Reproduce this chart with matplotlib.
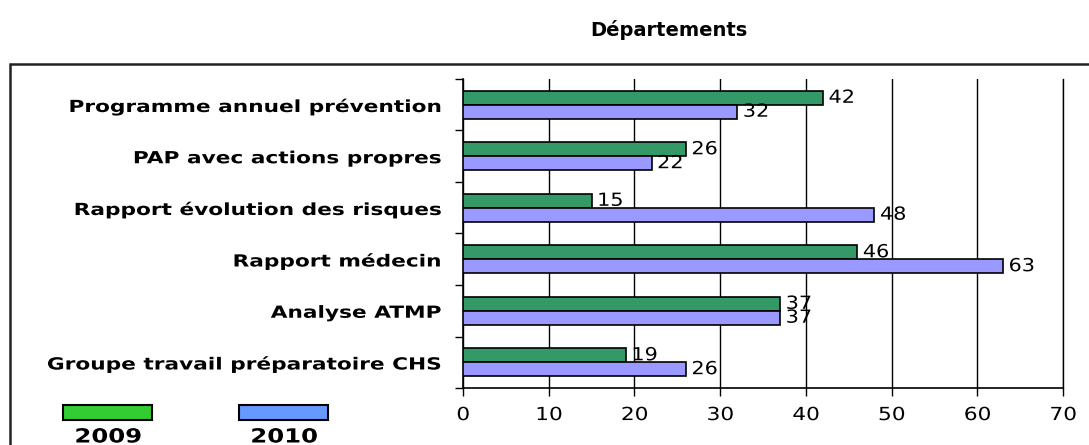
# Bar chart "Départements" - 2009 vs 2010
import matplotlib.pyplot as plt
from matplotlib.patches import Rectangle
from matplotlib.patheffects import AbstractPathEffect
from matplotlib.transforms import Affine2D
import numpy as np

# Data
categories = ['Programme annuel prévention', 'PAP avec actions propres',
              'Rapport évolution des risques', 'Rapport médecin',
              'Analyse ATMP', 'Groupe travail préparatoire CHS']
values_2009 = [42, 26, 15, 46, 37, 19]
values_2010 = [32, 22, 48, 63, 37, 26]
years = ['2009', '2010']
x_ticks = [0, 10, 20, 30, 40, 50, 60, 70]

plt.rcParams['font.family'] = ['DejaVu Sans']


# The original text is rendered wide (letter-spaced), so stretch glyphs horizontally
class Stretch(AbstractPathEffect):
    def __init__(self, sx, anchor='right'):
        super().__init__()
        self.sx = sx
        self.anchor = anchor

    def draw_path(self, renderer, gc, tpath, affine, rgbFace=None):
        xs = tpath.vertices[:, 0]
        if self.anchor == 'right':
            x0 = xs.max()
        elif self.anchor == 'center':
            x0 = (xs.min() + xs.max()) / 2
        else:
            x0 = xs.min()
        t = Affine2D().translate(-x0, 0).scale(self.sx, 1).translate(x0, 0) + affine
        renderer.draw_path(gc, tpath, t, rgbFace)


fig = plt.figure(figsize=(10.89, 4.45), dpi=100)
ax = fig.add_axes([463 / 1089, 1 - 388 / 445, 600 / 1089, 309 / 445])

pos = np.arange(len(categories))
h = 0.27
bars1 = ax.barh(pos - h / 2, values_2009, height=h, color='#339966',
                edgecolor='black', linewidth=1.2, zorder=3)
bars2 = ax.barh(pos + h / 2, values_2010, height=h, color='#9999ff',
                edgecolor='black', linewidth=1.2, zorder=3)
for t in ax.bar_label(bars1, padding=4, fontsize=13) + ax.bar_label(bars2, padding=4, fontsize=13):
    t.set_path_effects([Stretch(1.15, 'left')])

ax.set_xlim(0, 70)
ax.set_ylim(len(categories) - 0.5, -0.5)
ax.set_xticks(x_ticks)
ax.tick_params(axis='x', labelsize=13, length=6, width=1, pad=7)
for t in ax.get_xticklabels():
    t.set_path_effects([Stretch(1.2, 'center')])

# ticks between categories, labels centred on categories
ax.set_yticks(np.arange(len(categories) + 1) - 0.5)
ax.set_yticklabels([])
ax.set_yticks(pos, minor=True)
ax.set_yticklabels(categories, minor=True, fontsize=12, fontweight='bold')
ax.tick_params(axis='y', which='major', length=6, width=1)
ax.tick_params(axis='y', which='minor', length=0, pad=16)
for t in ax.get_yticklabels(minor=True):
    t.set_path_effects([Stretch(1.3, 'right')])

ax.grid(axis='x', color='black', linewidth=1, zorder=0)
ax.axvline(70, color='black', linewidth=1, clip_on=False, zorder=0)
ax.spines['top'].set_visible(False)
ax.spines['right'].set_visible(False)
for s in ['left', 'bottom']:
    ax.spines[s].set_linewidth(1.2)

# title
fig.text(669 / 1089, 1 - 30 / 445, 'Départements', ha='center', va='center',
         fontsize=14, fontweight='bold')

# outer frame
fig.patches.append(Rectangle((10 / 1089, -0.05), 1.1, 1 - 64 / 445 + 0.05,
                             transform=fig.transFigure, fill=False,
                             edgecolor='#222222', linewidth=1.8))

# legend drawn by hand (swatch above label)
legend_colors = ['#33cc33', '#6699ff']
legend_x = [63, 239]
for yr, col, lx in zip(years, legend_colors, legend_x):
    fig.patches.append(Rectangle((lx / 1089, 1 - 420 / 445), 89 / 1089, 15 / 445,
                                 transform=fig.transFigure, facecolor=col,
                                 edgecolor='black', linewidth=1.5))
    t = fig.text((lx + 45) / 1089, 1 - 437 / 445, yr, ha='center', va='center',
                 fontsize=14, fontweight='bold')
    t.set_path_effects([Stretch(1.25, 'center')])

fig.savefig('out.png', dpi=100)
